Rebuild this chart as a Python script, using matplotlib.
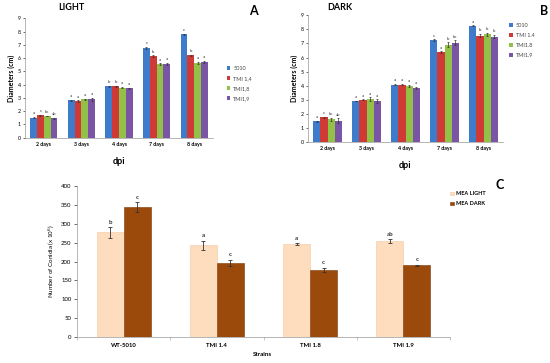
import numpy as np
import matplotlib
matplotlib.use('Agg')
import matplotlib.pyplot as plt

plt.rcParams['font.family'] = ['Lato', 'DejaVu Sans']

days = ['2 days', '3 days', '4 days', '7 days', '8 days']
strains = ['5010', 'TMI 1,4', 'TMI1,8', 'TMI1,9']
strains_dark = ['5010', 'TMI 1.4', 'TMI1.8', 'TMI1.9']

light_vals = [[1.51, 2.81, 3.87, 6.78, 7.79],
              [1.68, 2.76, 3.87, 6.13, 6.21],
              [1.63, 2.89, 3.77, 5.53, 5.63],
              [1.48, 2.91, 3.72, 5.58, 5.70]]
light_err = [[0.05, 0.04, 0.03, 0.06, 0.05],
             [0.04, 0.05, 0.03, 0.08, 0.05],
             [0.03, 0.06, 0.05, 0.07, 0.08],
             [0.04, 0.12, 0.05, 0.07, 0.08]]
light_let = [['a', 'a', 'b', 'c', 'c'],
             ['c', 'a', 'b', 'b', 'b'],
             ['bc', 'a', 'a', 'a', 'a'],
             ['ab', 'a', 'a', 'a', 'a']]

dark_vals = [[1.47, 2.91, 4.08, 7.25, 8.25],
             [1.75, 2.99, 4.08, 6.37, 7.56],
             [1.61, 3.03, 3.96, 6.92, 7.65],
             [1.52, 2.91, 3.84, 7.06, 7.49]]
dark_err = [[0.04, 0.03, 0.04, 0.05, 0.03],
            [0.03, 0.04, 0.04, 0.06, 0.10],
            [0.12, 0.15, 0.08, 0.15, 0.12],
            [0.15, 0.12, 0.10, 0.15, 0.10]]
dark_let = [['a', 'a', 'a', 'c', 'a'],
            ['c', 'a', 'a', 'a', 'b'],
            ['bc', 'a', 'a', 'b', 'b'],
            ['ab', 'a', 'a', 'bc', 'b']]

c_strains = ['WT-5010', 'TMI 1.4', 'TMI 1.8', 'TMI 1.9']
mea_light = [277, 243, 246, 254]
mea_light_err = [14, 12, 3, 6]
mea_dark = [345, 197, 178, 190]
mea_dark_err = [13, 8, 6, 2]
light_letters = ['b', 'a', 'a', 'ab']
dark_letters = ['c', 'c', 'c', 'c']

bar_colors = ['#3F7BCB', '#D03A36', '#93C047', '#7A55A5']

W, H = 550, 363
fig = plt.figure(figsize=(W / 100, H / 100), dpi=100)
fig.patch.set_facecolor('white')


def px_axes(l, t, r, b):
    return fig.add_axes([l / W, 1 - b / H, (r - l) / W, (b - t) / H])


def growth_panel(ax, vals, errs, lets, labels, title, letter, tx, lx, ly):
    x = np.arange(len(days))
    w = 0.18
    for i in range(4):
        pos = x + (i - 1.5) * w
        ax.bar(pos, vals[i], w, color=bar_colors[i], label=labels[i],
               yerr=errs[i], error_kw=dict(elinewidth=0.5, capsize=1, capthick=0.5, ecolor='#333333'))
        for p, v, e, s in zip(pos, vals[i], errs[i], lets[i]):
            ax.text(p, v + e + 0.12, s, ha='center', va='bottom', fontsize=3.2, color='#333333')
    ax.set_xlim(-0.5, len(days) - 0.5)
    ax.set_ylim(0, 9)
    ax.set_yticks(range(10))
    ax.set_xticks(x)
    ax.set_xticklabels(days, fontsize=3.8, fontweight='bold')
    ax.tick_params(axis='y', labelsize=3.8, length=1.5, width=0.4, pad=1.5)
    ax.tick_params(axis='x', length=0, pad=3)
    for s in ['top', 'right']:
        ax.spines[s].set_visible(False)
    for s in ['left', 'bottom']:
        ax.spines[s].set_color('#999999')
        ax.spines[s].set_linewidth(0.5)
    ax.set_ylabel('Diameters (cm)', fontsize=5, fontweight='bold', labelpad=2)
    ax.set_xlabel('dpi', fontsize=6.5, fontweight='bold', labelpad=7)
    leg = ax.legend(loc='upper left', bbox_to_anchor=(lx, ly), fontsize=4, frameon=False,
                    handlelength=0.7, handleheight=0.7, labelspacing=0.9, handletextpad=0.5,
                    borderaxespad=0)
    for t in leg.get_texts():
        t.set_color('#444444')
    fig.text(tx[0] / W, 1 - tx[1] / H, title, fontsize=6.5, fontweight='bold', ha='center', va='center')
    fig.text(letter[0] / W, 1 - letter[1] / H, letter[2], fontsize=9, fontweight='bold', ha='center', va='center')


axA = px_axes(25, 18.3, 213, 137.7)
growth_panel(axA, light_vals, light_err, light_let, strains, 'LIGHT', (253, 11, 'A'), (71, 8), 1.06, 0.62)

axB = px_axes(308, 15.3, 503, 142)
growth_panel(axB, dark_vals, dark_err, dark_let, strains_dark, 'DARK', (544, 11, 'B'), (340, 8), 1.02, 0.96)

# panel C
axC = px_axes(77, 186, 450, 337)
xc = np.arange(len(c_strains))
wc = 0.29
ek = dict(elinewidth=0.6, capsize=1.2, capthick=0.6, ecolor='#333333')
b1 = axC.bar(xc - wc / 2, mea_light, wc, color='#FDDDBE', edgecolor='#F3C9A0', linewidth=0.4,
             yerr=mea_light_err, error_kw=ek, label='MEA LIGHT')
b2 = axC.bar(xc + wc / 2, mea_dark, wc, color='#9C4A0C', edgecolor='#7A3806', linewidth=0.4,
             yerr=mea_dark_err, error_kw=ek, label='MEA DARK')
for i in range(len(c_strains)):
    axC.text(xc[i] - wc / 2, mea_light[i] + mea_light_err[i] + 6, light_letters[i],
             ha='center', va='bottom', fontsize=4.5, fontweight='bold', color='#333333')
    axC.text(xc[i] + wc / 2, mea_dark[i] + mea_dark_err[i] + 6, dark_letters[i],
             ha='center', va='bottom', fontsize=4.5, fontweight='bold', color='#333333')
axC.set_xlim(-0.5, len(c_strains) - 0.5)
axC.set_ylim(0, 400)
axC.set_yticks(range(0, 401, 50))
axC.set_xticks(xc)
axC.set_xticklabels(c_strains, fontsize=4.3, fontweight='bold')
axC.set_xticks(np.arange(-0.5, len(c_strains)), minor=True)
axC.tick_params(axis='x', which='major', length=0, pad=4)
axC.tick_params(axis='x', which='minor', length=2, width=0.4, color='#999999')
axC.tick_params(axis='y', labelsize=4.3, length=2, width=0.4, pad=2)
for s in ['top', 'right']:
    axC.spines[s].set_visible(False)
for s in ['left', 'bottom']:
    axC.spines[s].set_color('#999999')
    axC.spines[s].set_linewidth(0.5)
axC.set_ylabel('Number of Conidia (x 10$^6$)', fontsize=4.5, labelpad=4)
fig.text(262 / W, 1 - 355 / H, 'Strains', fontsize=4.5, fontweight='bold', ha='center', va='center')
legC = axC.legend(loc='upper left', bbox_to_anchor=(0.995, 0.98), frameon=False,
                  handlelength=0.6, handleheight=0.6, labelspacing=0.9, handletextpad=0.4,
                  borderaxespad=0, prop={'weight': 'bold', 'size': 4})
fig.text(500 / W, 1 - 185 / H, 'C', fontsize=9, fontweight='bold', ha='center', va='center')

fig.savefig('out.png', dpi=100)
